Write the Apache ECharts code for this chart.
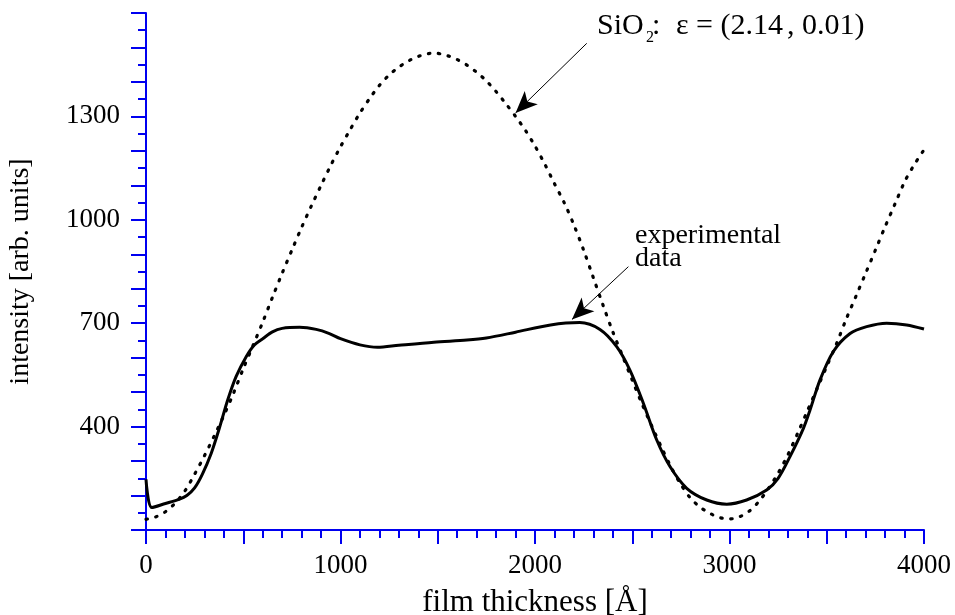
<!DOCTYPE html>
<html>
<head>
<meta charset="utf-8">
<script src="https://cdn.jsdelivr.net/npm/echarts@6/dist/echarts.min.js"></script>
<style>html,body{margin:0;padding:0;background:#fff}#c{width:955px;height:615px}</style>
</head>
<body>
<div id="c"></div>
<script>
// model curve: SiO2, eps = (2.14, 0.01)
const modelX = [0,50,100,150,200,250,300,350,400,450,500,550,600,650,700,750,800,850,900,950,1000,1050,1100,1150,1200,1250,1300,1350,1400,1450,1480,1550,1600,1650,1700,1750,1800,1850,1900,1950,2000,2050,2100,2150,2200,2250,2300,2350,2400,2450,2500,2550,2600,2650,2700,2750,2800,2850,2900,2950,3000,3050,3100,3150,3200,3250,3300,3350,3400,3450,3500,3550,3600,3650,3700,3750,3800,3850,3900,3950,4000];
const modelY = [131,138,153,178,213,262,315,372,432,497,568,635,703,775,845,912,978,1040,1100,1158,1212,1262,1310,1352,1390,1420,1443,1461,1474,1482,1484,1476,1465,1449,1428,1403,1372,1337,1300,1260,1214,1162,1105,1050,985,912,832,752,675,605,535,466,402,340,282,232,192,166,148,136,132,138,154,182,220,265,318,380,445,510,575,640,712,778,845,912,980,1045,1110,1160,1203];
// experimental data
const expX = [0,30,100,170,210,250,290,335,377,420,463,515,557,600,650,700,790,875,943,1000,1100,1190,1300,1480,1650,1750,1900,2080,2230,2334,2420,2488,2557,2626,2694,2780,2883,2986,3088,3191,3250,3311,3380,3414,3465,3534,3620,3705,3808,3911,4000];
const expY = [247,165,177,189,200,222,262,322,395,477,545,603,637,655,675,685,688,682,670,655,637,630,636,645,651,657,674,695,702,682,632,564,468,361,284,221,187,175,187,216,250,313,395,448,535,618,670,690,700,695,683];
const xLabels = [0,1000,2000,3000,4000];
const yLabels = [400,700,1000,1300];
// annotation arrows (data coords): [start, tip]
const arrowModel = [[2266,1512],[1900,1310]];
const arrowExp = [[2480,864],[2190,711]];

const FONT = '"Liberation Serif","DejaVu Serif",serif';
const AX = '#0000f0';
const zip = (a,b)=>a.map((v,i)=>[v,b[i]]);

const chart = echarts.init(document.getElementById('c'), null, {renderer:'canvas'});
chart.setOption({
  animation:false,
  backgroundColor:'#fff',
  grid:{left:146,right:31,top:13,bottom:85,containLabel:false,outerBoundsMode:'none'},
  xAxis:{
    type:'value',min:0,max:4000,interval:500,
    name:'film thickness [Å]',nameLocation:'middle',nameGap:57,
    nameTextStyle:{fontFamily:FONT,fontSize:31,color:'#000'},
    axisLine:{show:true,onZero:false,lineStyle:{color:AX,width:2}},
    axisTick:{show:true,inside:false,length:14,lineStyle:{color:AX,width:2}},
    minorTick:{show:true,splitNumber:5,length:8,lineStyle:{color:AX,width:2}},
    splitLine:{show:false},minorSplitLine:{show:false},
    axisLabel:{margin:22,fontFamily:FONT,fontSize:27,color:'#000',
      formatter:v=>xLabels.includes(v)?String(v):''}
  },
  yAxis:{
    type:'value',min:100,max:1600,interval:100,
    name:'intensity [arb. units]',nameLocation:'middle',nameGap:111,nameRotate:90,
    nameTextStyle:{fontFamily:FONT,fontSize:28,color:'#000'},
    axisLine:{show:true,onZero:false,lineStyle:{color:AX,width:2}},
    axisTick:{show:true,inside:false,length:15,lineStyle:{color:AX,width:2}},
    minorTick:{show:true,splitNumber:2,length:8,lineStyle:{color:AX,width:2}},
    splitLine:{show:false},minorSplitLine:{show:false},
    axisLabel:{margin:26,fontFamily:FONT,fontSize:27,color:'#000',
      formatter:v=>yLabels.includes(v)?String(v):''}
  },
  series:[
    {type:'line',name:'model',data:zip(modelX,modelY),showSymbol:false,smooth:0.3,
     lineStyle:{color:'#000',width:3.2,type:[1.5,8.5],cap:'round'},z:2,
     markLine:{silent:true,symbol:['none','arrow'],symbolSize:[14,22],
       lineStyle:{color:'#000',width:1,type:'solid',cap:'butt'},label:{show:false},
       data:[[{coord:arrowModel[0]},{coord:arrowModel[1]}],[{coord:arrowExp[0]},{coord:arrowExp[1]}]]}},
    {type:'line',name:'exp',data:zip(expX,expY),showSymbol:false,smooth:0.3,
     lineStyle:{color:'#000',width:3},z:3}
  ],
  graphic:[
    {type:'text',left:597,top:11,style:{text:'SiO',font:'30px '+FONT,fill:'#000'}},
    {type:'text',left:646,top:30,style:{text:'2',font:'16px '+FONT,fill:'#000'}},
    {type:'text',left:652,top:11,style:{text:':',font:'30px '+FONT,fill:'#000'}},
    {type:'text',left:676,top:11,style:{text:'ε = (2.14',font:'30px '+FONT,fill:'#000'}},
    {type:'text',left:787,top:11,style:{text:', 0.01)',font:'30px '+FONT,fill:'#000'}},
    {type:'text',left:635,top:222,style:{text:'experimental',font:'28px '+FONT,fill:'#000'}},
    {type:'text',left:635,top:245,style:{text:'data',font:'28px '+FONT,fill:'#000'}}
  ]
});
</script>
</body>
</html>
